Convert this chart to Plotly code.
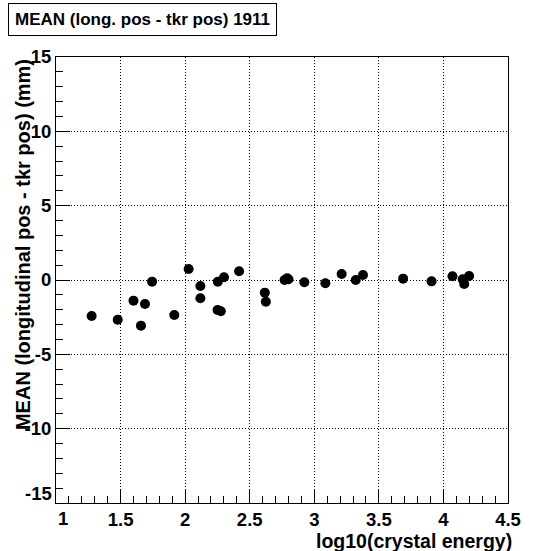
import plotly.graph_objects as go

# log10(crystal energy)
log_energy = [1.276, 1.478, 1.600, 1.658, 1.689, 1.744, 1.916, 2.027, 2.118, 2.118,
              2.251, 2.276, 2.253, 2.301, 2.418, 2.617, 2.625, 2.77, 2.79, 2.80,
              2.923, 3.086, 3.212, 3.321, 3.377, 3.688, 3.908, 4.070, 4.149, 4.161, 4.199]
# MEAN (longitudinal pos - tkr pos) (mm)
mean_diff = [-2.42, -2.67, -1.39, -3.07, -1.61, -0.11, -2.35, 0.74, -0.40, -1.23,
             -2.02, -2.10, -0.11, 0.18, 0.59, -0.85, -1.46, 0.0, 0.12, 0.05,
             -0.15, -0.22, 0.40, 0.0, 0.34, 0.09, -0.09, 0.25, 0.05, -0.27, 0.27]

x_ticks = [1, 1.5, 2, 2.5, 3, 3.5, 4, 4.5]
x_ticklabels = ["", "1.5", "2", "2.5", "3", "3.5", "4", "4.5"]
y_ticks = [-15, -10, -5, 0, 5, 10, 15]
y_ticklabels = ["", "-10", "-5", "0", "5", "10", "15"]

title_text = "MEAN (long. pos - tkr pos) 1911"
x_title = "log10(crystal energy)"
y_title = "MEAN (longitudinal pos - tkr pos) (mm)"

FONT = "Liberation Sans"
TICKFONT = dict(family=FONT, size=18.5, color="black", weight="bold")


def bold(s):
    return "<b>" + s + "</b>" if s else ""


fig = go.Figure()
fig.add_trace(go.Scatter(
    x=log_energy, y=mean_diff, mode="markers",
    marker=dict(color="black", size=10, symbol="circle"),
    showlegend=False, hoverinfo="x+y"))

axis_common = dict(
    showline=True, linecolor="black", linewidth=1, mirror=True,
    ticks="inside", ticklen=14, tickcolor="black", tickwidth=1,
    showgrid=True, gridcolor="black", griddash="1px,2px", gridwidth=1,
    zeroline=False,
    tickfont=TICKFONT,
)

fig.update_xaxes(range=[1, 4.5], tickvals=x_ticks, ticktext=[bold(t) for t in x_ticklabels],
                 minor=dict(ticks="inside", ticklen=7, dtick=0.1, tick0=1, tickcolor="black", showgrid=False),
                 **axis_common)
fig.update_yaxes(range=[-15, 15], tickvals=y_ticks, ticktext=[bold(t) for t in y_ticklabels],
                 minor=dict(ticks="inside", ticklen=7, dtick=1, tick0=0, tickcolor="black", showgrid=False),
                 **axis_common)

# ROOT-style shifted extreme labels
fig.add_annotation(text=bold("1"), xref="paper", yref="paper", x=0.0, y=0.0,
                   xanchor="left", yanchor="top", xshift=0, yshift=-3,
                   showarrow=False, font=dict(family=FONT, size=18.5, color="black", weight="bold"))
fig.add_annotation(text=bold("-15"), xref="paper", yref="paper", x=0.0, y=0.0,
                   xanchor="right", yanchor="middle", xshift=-2, yshift=10,
                   showarrow=False, font=dict(family=FONT, size=18.5, color="black", weight="bold"))

fig.add_annotation(
    text=bold(title_text), xref="paper", yref="paper",
    x=-0.106, y=1.0, xanchor="left", yanchor="bottom", yshift=21,
    showarrow=False, font=dict(family=FONT, size=17, color="black"),
    bordercolor="black", borderwidth=1, borderpad=6, bgcolor="white")

fig.add_annotation(
    text=bold(x_title), xref="paper", yref="paper",
    x=1.0, y=0, xanchor="right", yanchor="top", yshift=-25, xshift=6,
    showarrow=False, font=dict(family=FONT, size=19.5, color="black"))

fig.add_annotation(
    text=bold(y_title), xref="paper", yref="paper",
    x=-0.074, y=1.0, xanchor="center", yanchor="top", textangle=-90,
    showarrow=False, font=dict(family=FONT, size=20, color="black"))

fig.update_layout(
    width=533, height=551,
    margin=dict(l=56, r=16, t=57, b=48),
    paper_bgcolor="white", plot_bgcolor="white",
)

fig.write_html("out.html")
